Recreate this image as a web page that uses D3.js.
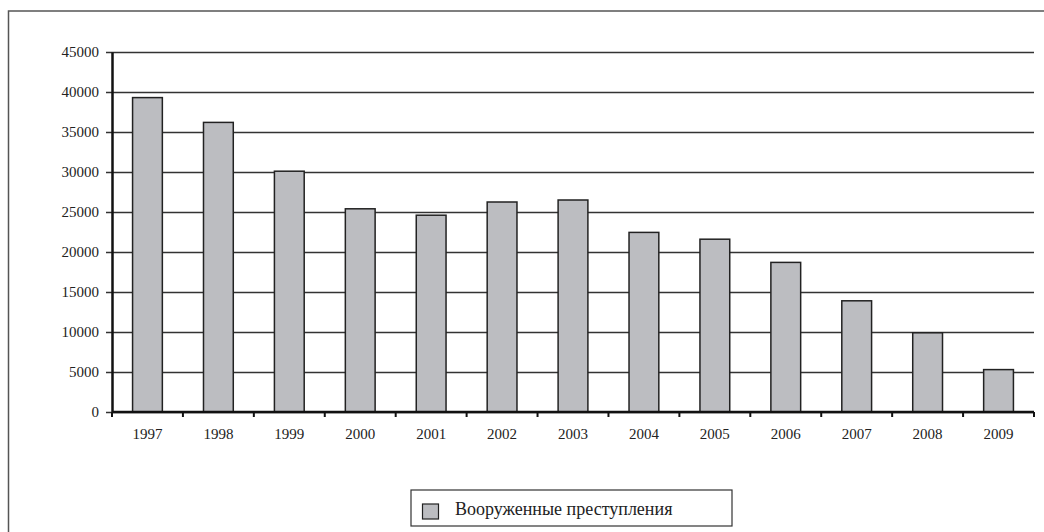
<!DOCTYPE html>
<html>
<head>
  <meta charset="utf-8">
  <title>Вооруженные преступления</title>
  <script src="https://d3js.org/d3.v7.min.js"></script>
  <style>
    body { margin: 0; background: #fff; }
    svg text { font-family: "Liberation Serif", "Times New Roman", Tinos, "DejaVu Serif", serif; }
  </style>
</head>
<body>

  <svg width="1044" height="532"></svg>

  <script>

    // Data
    const years = ["1997", "1998", "1999", "2000", "2001", "2002", "2003",
                   "2004", "2005", "2006", "2007", "2008", "2009"];
    const crimes = [39300, 36200, 30100, 25400, 24600, 26250, 26500,
                    22450, 21600, 18700, 13900, 9900, 5300];
    const yTicks = [0, 5000, 10000, 15000, 20000, 25000, 30000, 35000, 40000, 45000];
    const seriesName = "Вооруженные преступления";

    const width = 1044;
    const height = 532;
    const margin = { top: 52, right: 10, bottom: 120, left: 112 };
    const chartWidth = width - margin.left - margin.right;
    const chartHeight = height - margin.top - margin.bottom;

    const svg = d3.select("svg")
      .attr("width", width)
      .attr("height", height);

    // Outer frame (runs off the right and bottom edges)
    svg.append("rect")
      .attr("x", 8.5)
      .attr("y", 11)
      .attr("width", 1100)
      .attr("height", 600)
      .attr("fill", "none")
      .attr("stroke", "#555")
      .attr("stroke-width", 1.5);

    const chart = svg.append("g")
      .attr("transform", `translate(${margin.left},${margin.top})`);

    const xScale = d3.scaleBand()
      .domain(years)
      .range([0, chartWidth])
      .paddingInner(0.58)
      .paddingOuter(0.29);

    const yScale = d3.scaleLinear()
      .domain([0, 45000])
      .range([chartHeight, 0]);

    // Horizontal gridlines with left ticks
    chart.append("g")
      .attr("class", "grid")
      .call(d3.axisLeft(yScale)
        .tickValues(yTicks)
        .tickSize(-chartWidth - 6)
        .tickFormat(""))
      .call(g => g.select(".domain").remove())
      .call(g => g.selectAll(".tick line")
        .attr("x1", -6)
        .attr("x2", chartWidth)
        .attr("stroke", "#333")
        .attr("stroke-width", 1.5));

    // Bars
    chart.selectAll(".bar")
      .data(crimes)
      .enter().append("rect")
        .attr("class", "bar")
        .attr("x", (d, i) => xScale(years[i]))
        .attr("y", d => yScale(d))
        .attr("width", xScale.bandwidth())
        .attr("height", d => chartHeight - yScale(d))
        .attr("fill", "#bcbdc1")
        .attr("stroke", "#222")
        .attr("stroke-width", 1.5);

    // Y axis labels
    const yAxis = chart.append("g")
      .call(d3.axisLeft(yScale)
        .tickValues(yTicks)
        .tickSize(0)
        .tickPadding(13)
        .tickFormat(d3.format("d")))
      .attr("font-size", 15);
    yAxis.select(".domain")
      .attr("stroke", "#111")
      .attr("stroke-width", 2.5);
    yAxis.selectAll("text")
      .attr("fill", "#222");

    // X axis: ticks at category boundaries, labels centered
    const step = xScale.step();
    const xAxis = chart.append("g")
      .attr("transform", `translate(0,${chartHeight})`);
    xAxis.append("line")
      .attr("x1", 0)
      .attr("x2", chartWidth)
      .attr("stroke", "#111")
      .attr("stroke-width", 2.5);
    xAxis.selectAll(".xtick")
      .data(d3.range(years.length + 1))
      .enter().append("line")
        .attr("class", "xtick")
        .attr("x1", i => i * step)
        .attr("x2", i => i * step)
        .attr("y1", 0)
        .attr("y2", 5)
        .attr("stroke", "#111")
        .attr("stroke-width", 2);
    xAxis.selectAll(".xlabel")
      .data(years)
      .enter().append("text")
        .attr("class", "xlabel")
        .attr("x", d => xScale(d) + xScale.bandwidth() / 2)
        .attr("y", 27)
        .attr("text-anchor", "middle")
        .attr("font-size", 15)
        .attr("fill", "#222")
        .text(d => d);

    // Legend
    const legend = svg.append("g")
      .attr("transform", "translate(411,490)");
    legend.append("rect")
      .attr("width", 321)
      .attr("height", 36)
      .attr("fill", "#fff")
      .attr("stroke", "#333")
      .attr("stroke-width", 1.2);
    legend.append("rect")
      .attr("x", 11.5)
      .attr("y", 14)
      .attr("width", 16)
      .attr("height", 15)
      .attr("fill", "#bcbdc1")
      .attr("stroke", "#222")
      .attr("stroke-width", 1.2);
    legend.append("text")
      .attr("x", 44)
      .attr("y", 25)
      .attr("font-size", 18)
      .attr("fill", "#222")
      .text(seriesName);

  </script>

</body>
</html>
